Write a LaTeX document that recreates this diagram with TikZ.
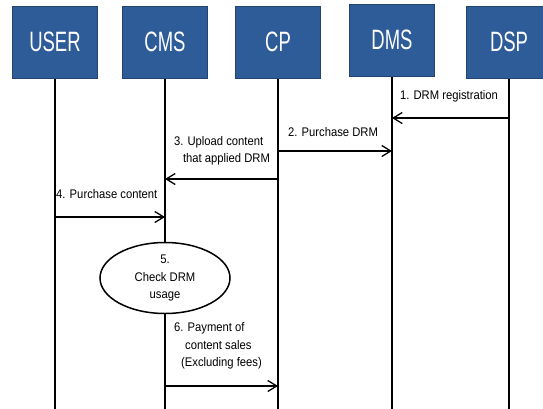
\documentclass[tikz,border=0pt]{standalone}
\usepackage{fontspec}
\setmainfont{Liberation Sans}[FakeStretch=0.9]
\newfontfamily\boxfont{Liberation Sans}[FakeStretch=0.66]
\usetikzlibrary{arrows.meta,shapes.geometric}
\definecolor{boxblue}{HTML}{2E5C98}
\definecolor{boxedge}{HTML}{22446F}
\tikzset{
  actor/.style={draw=boxedge,line width=1pt,fill=boxblue,minimum width=85pt,minimum height=72pt,
    inner sep=0pt,text=white,font=\boxfont\fontsize{28}{30}\selectfont},
  life/.style={line width=1.3pt},
  msg/.style={line width=1.3pt,-{Straight Barb[length=9pt,width=11pt,line width=1.3pt]}},
  lbl/.style={inner sep=0pt,font=\fontsize{12.5}{17.5}\selectfont},
  check/.style={ellipse,draw,line width=1.5pt,fill=white,minimum width=130pt,minimum height=71pt,
    inner sep=0pt,align=center,font=\fontsize{12.5}{17.5}\selectfont}
}
\begin{document}
\begin{tikzpicture}[x=1pt,y=-1pt]
\useasboundingbox (0,0) rectangle (543,408);
\fill[white] (0,0) rectangle (543,408);
% lifeline bottoms
\coordinate (ub) at (55,410);
\coordinate (cb) at (165,410);
\coordinate (pb) at (278,410);
\coordinate (db) at (392,410);
\coordinate (sb) at (509,410);
\draw[life] (55,60) -- (ub);
\draw[life] (165,60) -- (cb);
\draw[life] (278,60) -- (pb);
\draw[life] (392,60) -- (db);
\draw[life] (509,60) -- (sb);
% actors
\node[actor] (user) at (55,42) {USER};
\node[actor] (cms) at (165,42) {CMS};
\node[actor] (cp) at (278,42) {CP};
\node[actor] (dms) at (392,40) {DMS};
\node[actor] (dsp) at (509,42) {DSP};
% messages
\draw[msg] (dsp |- 0,118) -- (dms |- 0,118);
\node[lbl] (l1) at (449,96) {1. DRM registration};
\draw[msg] (cp |- 0,151) -- (dms |- 0,151);
\node[lbl] (l2) at (333,132) {2. Purchase DRM};
\draw[msg] (cp |- 0,179) -- (cms |- 0,179);
\node[lbl,align=left] (l3) at (222,151) {3. Upload content\\\hspace{9pt}that applied DRM};
\draw[msg] (user |- 0,217) -- (cms |- 0,217);
\node[lbl,anchor=west] (l4) at (56,194) {4. Purchase content};
\node[check] (chk) at (165,278) {5.\\Check DRM\\usage};
\draw[msg] (cms |- 0,386) -- (cp |- 0,386);
\node[lbl,align=left] (l6) at (218,346) {6. Payment of\\\hspace{11pt}content sales\\\hspace{7pt}(Excluding fees)};
\end{tikzpicture}
\end{document}
